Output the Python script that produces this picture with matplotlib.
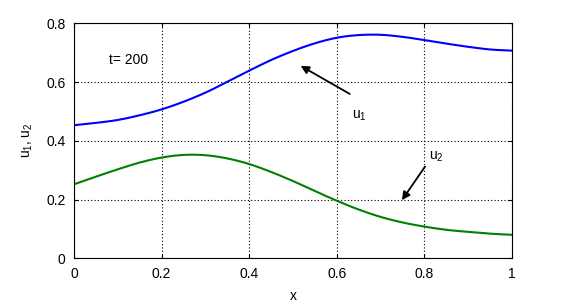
import numpy as np
import matplotlib
matplotlib.use("Agg")
import matplotlib.pyplot as plt

x_pts = [0.0, 0.05, 0.1, 0.15, 0.2, 0.25, 0.3, 0.35, 0.4, 0.45, 0.5,
         0.55, 0.6, 0.65, 0.7, 0.75, 0.8, 0.85, 0.9, 0.95, 1.0]
u1 = [0.453, 0.461, 0.471, 0.487, 0.507, 0.533, 0.564, 0.601, 0.639, 0.675, 0.706,
      0.732, 0.751, 0.760, 0.761, 0.754, 0.743, 0.731, 0.720, 0.711, 0.707]
u2 = [0.252, 0.278, 0.303, 0.326, 0.343, 0.352, 0.351, 0.340, 0.321, 0.294, 0.263,
      0.229, 0.196, 0.166, 0.141, 0.122, 0.108, 0.097, 0.090, 0.084, 0.080]
xticks = [0, 0.2, 0.4, 0.6, 0.8, 1]
yticks = [0, 0.2, 0.4, 0.6, 0.8]
xticklabels = ["0", "0.2", "0.4", "0.6", "0.8", "1"]
yticklabels = ["0", "0.2", "0.4", "0.6", "0.8"]

plt.rcParams['font.family'] = ['Liberation Sans', 'DejaVu Sans']
plt.rcParams['mathtext.fontset'] = 'custom'
plt.rcParams['mathtext.rm'] = 'Liberation Sans'


def smooth(xp, yp, n=10):
    # Catmull-Rom curve through the read points (for drawing only)
    xp = np.asarray(xp, float)
    yp = np.asarray(yp, float)
    P = np.column_stack([xp, yp])
    P = np.vstack([2 * P[0] - P[1], P, 2 * P[-1] - P[-2]])
    out = []
    t = np.linspace(0, 1, n, endpoint=False)[:, None]
    for i in range(1, len(P) - 2):
        p0, p1, p2, p3 = P[i - 1], P[i], P[i + 1], P[i + 2]
        seg = 0.5 * ((2 * p1) + (-p0 + p2) * t + (2 * p0 - 5 * p1 + 4 * p2 - p3) * t ** 2
                     + (-p0 + 3 * p1 - 3 * p2 + p3) * t ** 3)
        out.append(seg)
    out.append(P[-2][None, :])
    out = np.vstack(out)
    return out[:, 0], out[:, 1]


fig = plt.figure(figsize=(5.67, 3.03), dpi=100)
ax = fig.add_axes([0.1305, 0.1475, 0.7725, 0.7755])

sx, sy = smooth(x_pts, u1)
ax.plot(sx, sy, color='#0000ff', lw=1.5)
sx, sy = smooth(x_pts, u2)
ax.plot(sx, sy, color='#008000', lw=1.5)

ax.set_xlim(0, 1)
ax.set_ylim(0, 0.8)
ax.set_xticks(xticks)
ax.set_xticklabels(xticklabels)
ax.set_yticks(yticks)
ax.set_yticklabels(yticklabels)
ax.grid(True, color='black', linestyle=(0, (1, 2)), linewidth=0.8)
ax.tick_params(direction='in', length=3, labelsize=10, top=True, right=True, pad=6)
for s in ax.spines.values():
    s.set_linewidth(0.8)

ax.set_xlabel('x', fontsize=10, labelpad=6)
ax.set_ylabel(r'$\mathregular{u_1, u_2}$', fontsize=10, labelpad=8)

ax.text(0.08, 0.66, 't= 200', fontsize=10)
ax.annotate('', xy=(0.512, 0.660), xytext=(0.635, 0.555),
            arrowprops=dict(arrowstyle='-|>', color='black', lw=1.3, mutation_scale=12))
ax.text(0.635, 0.475, r'$\mathregular{u_1}$', fontsize=10)
ax.annotate('', xy=(0.745, 0.19), xytext=(0.805, 0.32),
            arrowprops=dict(arrowstyle='-|>', color='black', lw=1.3, mutation_scale=12))
ax.text(0.81, 0.335, r'$\mathregular{u_2}$', fontsize=10)

fig.savefig('out.png', dpi=100)
